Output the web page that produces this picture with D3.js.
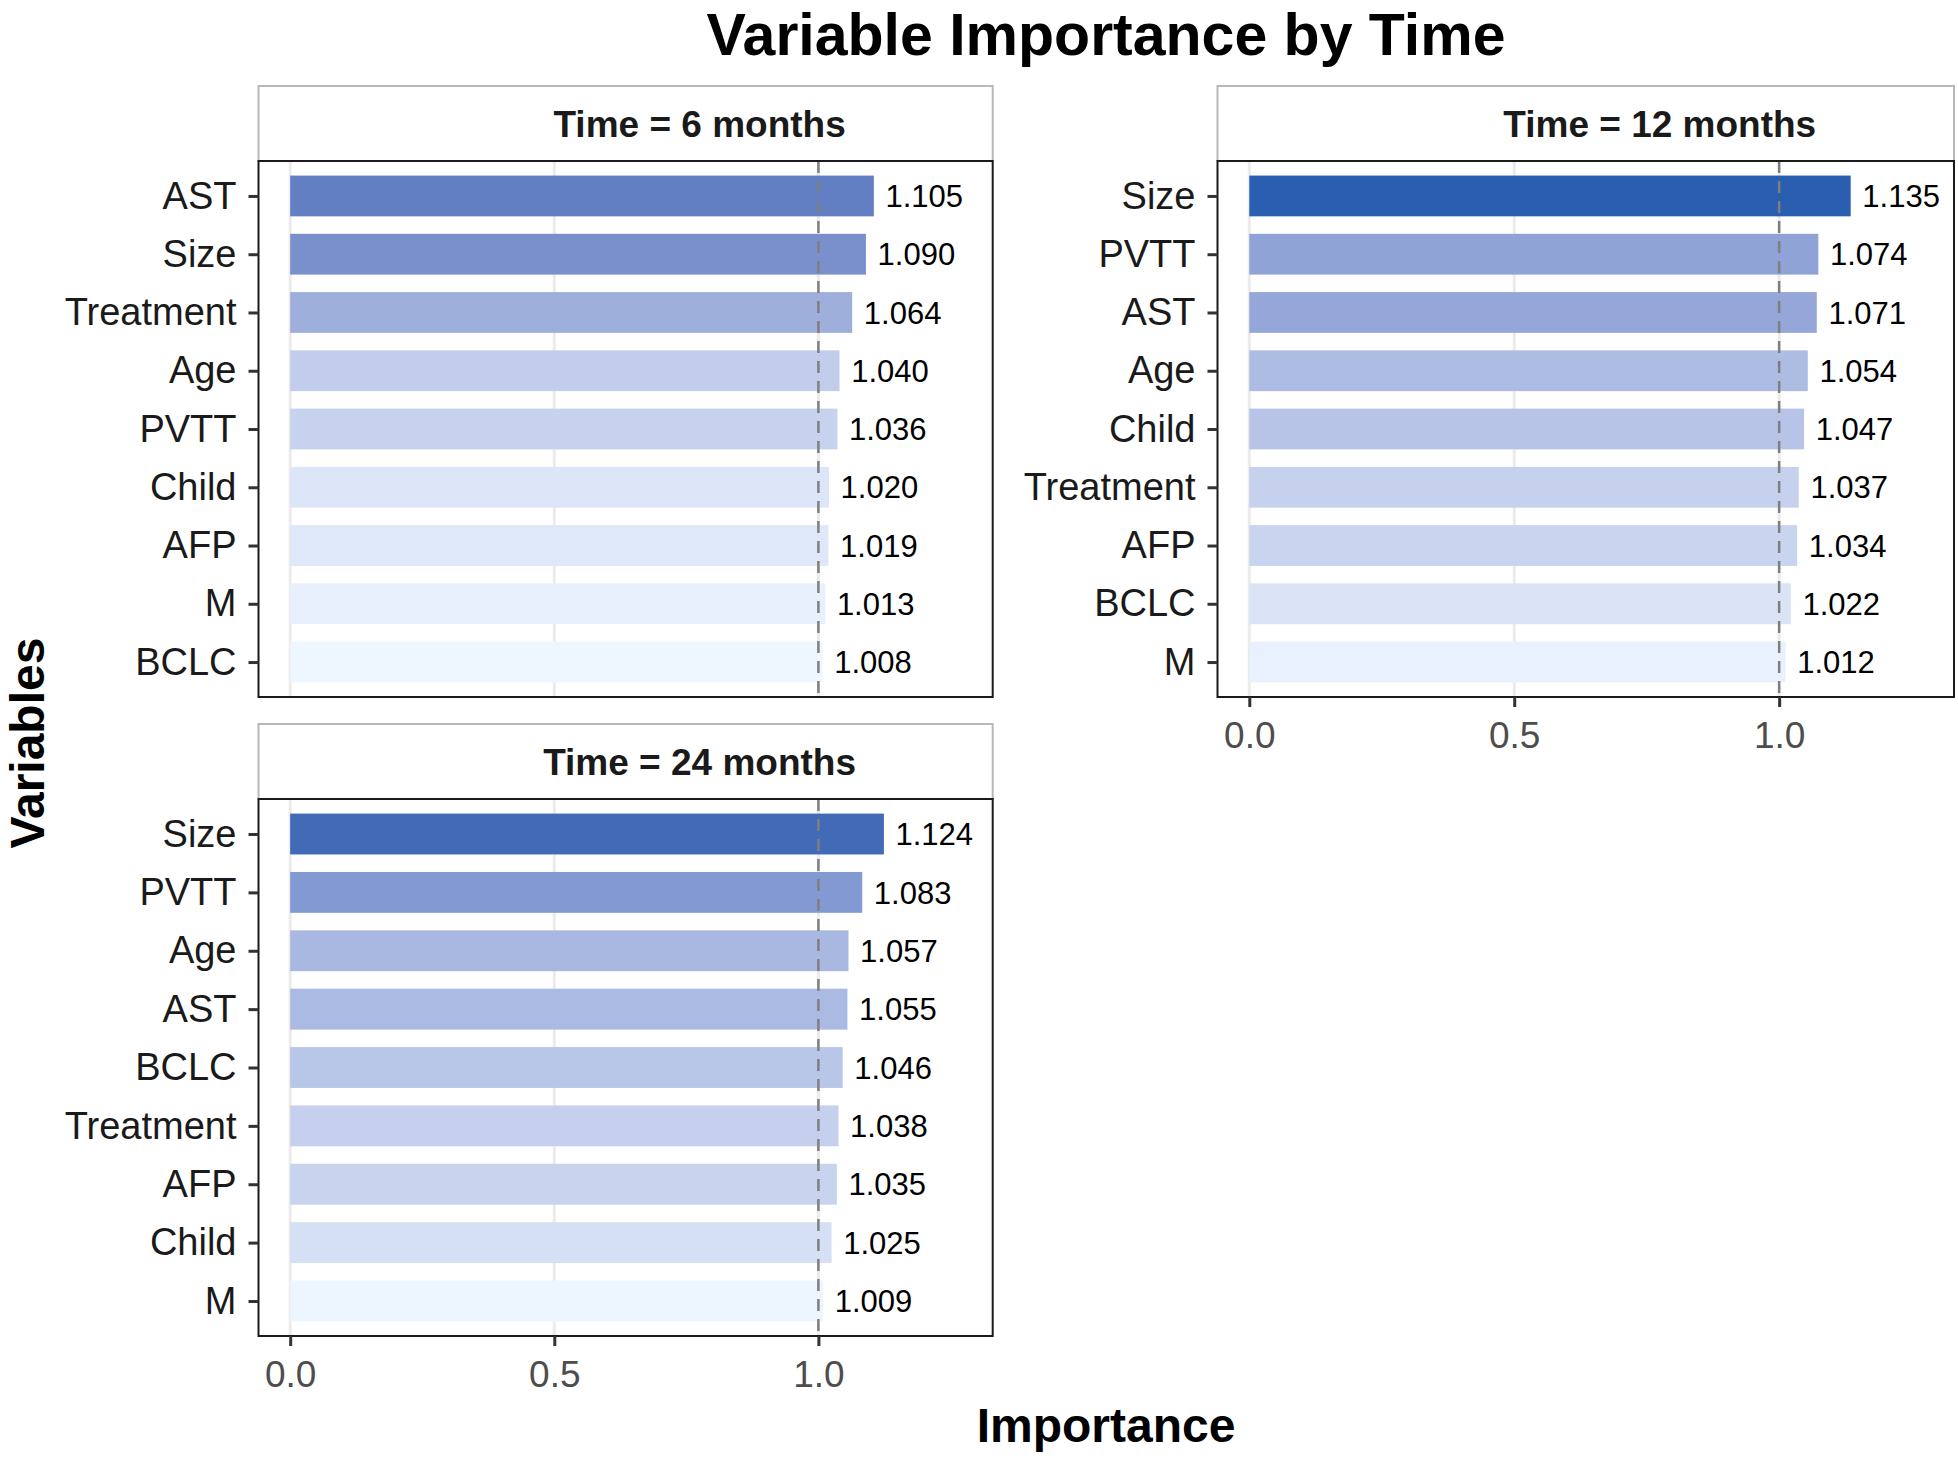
<!DOCTYPE html>
<html>
  <head>
    <title>Variable Importance by Time</title>
    <script src="https://cdn.jsdelivr.net/npm/d3@7"></script>
    <style>
      body { margin: 0; background: #fff; }
      text { font-family: "Liberation Sans", Arial, sans-serif; }
    </style>
  </head>
  <body>
    <svg width="1958" height="1459" id="mainsvg"></svg>
    <script>
        // data
        const panelTitles = ['Time = 6 months', 'Time = 12 months', 'Time = 24 months'];
        const vars6 = ['AST', 'Size', 'Treatment', 'Age', 'PVTT', 'Child', 'AFP', 'M', 'BCLC'];
        const vals6 = [1.105, 1.090, 1.064, 1.040, 1.036, 1.020, 1.019, 1.013, 1.008];
        const vars12 = ['Size', 'PVTT', 'AST', 'Age', 'Child', 'Treatment', 'AFP', 'BCLC', 'M'];
        const vals12 = [1.135, 1.074, 1.071, 1.054, 1.047, 1.037, 1.034, 1.022, 1.012];
        const vars24 = ['Size', 'PVTT', 'Age', 'AST', 'BCLC', 'Treatment', 'AFP', 'Child', 'M'];
        const vals24 = [1.124, 1.083, 1.057, 1.055, 1.046, 1.038, 1.035, 1.025, 1.009];
        const xTicks = [0, 0.5, 1.0];

        const panels = [
          {title: panelTitles[0], vars: vars6, vals: vals6, col: 0, row: 0},
          {title: panelTitles[1], vars: vars12, vals: vals12, col: 1, row: 0},
          {title: panelTitles[2], vars: vars24, vals: vals24, col: 0, row: 1}
        ];

        const svg = d3.select('#mainsvg');

        const cols = [[258.5, 992.7], [1217.5, 1954]];
        const rows = [{strip: 86, top: 161, bottom: 697}, {strip: 724, top: 799, bottom: 1336}];

        const allVals = vals6.concat(vals12, vals24);
        const color = d3.scaleLinear()
          .domain(d3.extent(allVals))
          .range(['#eef6ff', '#2a5eb0'])
          .interpolate(d3.interpolateLab);

        panels.forEach(p => {
          const [x0, x1] = cols[p.col];
          const r = rows[p.row];
          const xScale = d3.scaleLinear().domain([-0.06, 1.33]).range([x0, x1]);
          const yScale = d3.scalePoint().domain(p.vars).range([r.top, r.bottom]).padding(0.6);
          const bh = yScale.step() * 0.7;
          const g = svg.append('g');

          // strip
          g.append('rect')
            .attr('x', x0).attr('y', r.strip)
            .attr('width', x1 - x0).attr('height', r.top - r.strip)
            .attr('fill', '#fff').attr('stroke', '#b8b8b8').attr('stroke-width', 2);
          g.append('text').text(p.title)
            .attr('x', (x0 + x1) / 2 + 74).attr('y', (r.strip + r.top) / 2)
            .attr('dy', '0.36em')
            .attr('text-anchor', 'middle')
            .attr('font-size', 37).attr('font-weight', 'bold').attr('fill', '#1a1a1a');

          // grid
          g.selectAll('.vgrid').data(xTicks).join('line')
            .attr('x1', d => xScale(d)).attr('x2', d => xScale(d))
            .attr('y1', r.top).attr('y2', r.bottom)
            .attr('stroke', '#ebebeb').attr('stroke-width', 3);

          // bars
          p.vars.forEach((v, i) => {
            g.append('rect')
              .attr('x', xScale(0))
              .attr('y', yScale(v) - bh / 2)
              .attr('width', xScale(p.vals[i]) - xScale(0))
              .attr('height', bh)
              .attr('fill', color(p.vals[i]));
          });

          // reference line at 1
          g.append('line')
            .attr('x1', xScale(1)).attr('x2', xScale(1))
            .attr('y1', r.top).attr('y2', r.bottom)
            .attr('stroke', '#7f7f7f').attr('stroke-width', 2.5)
            .attr('stroke-dasharray', '12,8');

          // value labels
          p.vars.forEach((v, i) => {
            g.append('text').text(d3.format('.3f')(p.vals[i]))
              .attr('x', xScale(p.vals[i] + 0.022))
              .attr('y', yScale(v))
              .attr('dy', '0.36em')
              .attr('font-size', 31).attr('fill', '#000');
          });

          // panel border
          g.append('rect')
            .attr('x', x0).attr('y', r.top)
            .attr('width', x1 - x0).attr('height', r.bottom - r.top)
            .attr('fill', 'none').attr('stroke', '#1a1a1a').attr('stroke-width', 2);

          // y axis
          const yAxis = d3.axisLeft(yScale).tickSize(10).tickPadding(12);
          const ya = g.append('g').attr('transform', `translate(${x0}, 0)`).call(yAxis);
          ya.select('.domain').remove();
          ya.selectAll('.tick line').attr('stroke', '#333').attr('stroke-width', 3);
          ya.selectAll('.tick text').attr('font-size', 38).attr('fill', '#1a1a1a')
            .attr('font-family', '"Liberation Sans", Arial, sans-serif');

          // x axis on the bottom panel of each column
          if ((p.col === 0 && p.row === 1) || (p.col === 1 && p.row === 0)) {
            const xAxis = d3.axisBottom(xScale).tickValues(xTicks).tickFormat(d3.format('.1f'))
              .tickSize(10).tickPadding(15);
            const xa = g.append('g').attr('transform', `translate(0, ${r.bottom})`).call(xAxis);
            xa.select('.domain').remove();
            xa.selectAll('.tick line').attr('stroke', '#333').attr('stroke-width', 3);
            xa.selectAll('.tick text').attr('font-size', 37).attr('fill', '#4d4d4d')
              .attr('font-family', '"Liberation Sans", Arial, sans-serif');
          }
        });

        // titles
        svg.append('text').text('Variable Importance by Time')
          .attr('x', 1106).attr('y', 55)
          .attr('text-anchor', 'middle')
          .attr('font-size', 59).attr('font-weight', 'bold');

        svg.append('text').text('Importance')
          .attr('x', 1106).attr('y', 1442)
          .attr('text-anchor', 'middle')
          .attr('font-size', 48).attr('font-weight', 'bold');

        svg.append('text').text('Variables')
          .attr('transform', 'translate(44, 743) rotate(-90)')
          .attr('text-anchor', 'middle')
          .attr('font-size', 48).attr('font-weight', 'bold');
    </script>
  </body>
</html>
